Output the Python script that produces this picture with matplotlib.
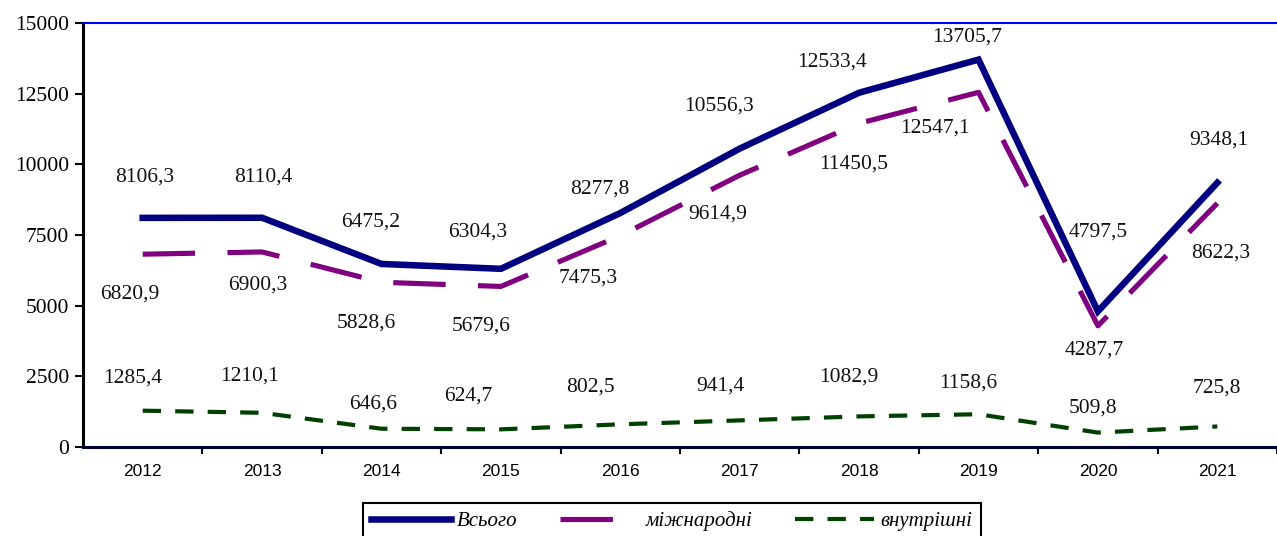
import matplotlib
matplotlib.use("Agg")
import matplotlib.pyplot as plt

years = ["2012", "2013", "2014", "2015", "2016", "2017", "2018", "2019", "2020", "2021"]
total = [8106.3, 8110.4, 6475.2, 6304.3, 8277.8, 10556.3, 12533.4, 13705.7, 4797.5, 9348.1]
international = [6820.9, 6900.3, 5828.6, 5679.6, 7475.3, 9614.9, 11450.5, 12547.1, 4287.7, 8622.3]
domestic = [1285.4, 1210.1, 646.6, 624.7, 802.5, 941.4, 1082.9, 1158.6, 509.8, 725.8]
series_names = ["Всього", "міжнародні", "внутрішні"]
y_ticks = [0, 2500, 5000, 7500, 10000, 12500, 15000]

# label offsets in pixels (dx, dy), placed by hand to match the picture
total_offsets = [(2, 41), (1, 41), (-11, 42), (-23, 37), (-20, 24),
                 (-21, 43), (-27, 31), (-11, 23), (0, 79), (2, 43)]
intl_offsets = [(-13, -40), (-4, -33), (-15, -41), (-20, -40), (-32, -42),
                (-22, -39), (-5, -41), (-44, -36), (-4, -24), (3, -50)]
dom_offsets = [(-10, 33), (-12, 37), (-8, 25), (-33, 33), (-30, 37),
               (-19, 34), (-10, 39), (-10, 31), (-5, 25), (0, 38)]


def fmt(v):
    return ("%.1f" % v).replace(".", ",")


fig = plt.figure(figsize=(12.77, 5.36), dpi=100)
ax = fig.add_axes([83 / 1277, 89 / 536, 1194 / 1277, 424 / 536])

x = list(range(len(years)))

line_total, = ax.plot(x, total, color="#000080", lw=4.7, label=series_names[0],
                      solid_joinstyle="miter")
line_intl, = ax.plot(x, international, color="#800080", lw=3.7, label=series_names[1],
                     dashes=(10.2, 6.3))
line_dom, = ax.plot(x, domestic, color="#004000", lw=3.0, label=series_names[2],
                    dashes=(4.4, 3.4))

serif = "Liberation Serif"
for values, offsets in [(total, total_offsets), (international, intl_offsets),
                        (domestic, dom_offsets)]:
    for i, v in enumerate(values):
        ax.annotate(fmt(v), (i, v), xytext=offsets[i], textcoords="offset pixels",
                    ha="center", va="center", fontsize=15.5, family=serif,
                    color="#111111")

ax.set_xlim(-0.5, -0.5 + 1194 / 120.6)
ax.set_ylim(0, 15000)

ax.set_yticks(y_ticks)
ax.set_yticklabels([str(t) for t in y_ticks], fontsize=15.5, family=serif)
ax.tick_params(axis="y", direction="out", length=6, width=1.5, pad=4)

ax.set_xticks(x)
ax.set_xticklabels(years, fontsize=12.5, family="Liberation Sans")
ax.set_xticks([i + 0.5 for i in x], minor=True)
ax.tick_params(axis="x", which="major", length=0, pad=12)
ax.tick_params(axis="x", which="minor", direction="out", length=5, width=1.5)

ax.spines["right"].set_visible(False)
ax.spines["top"].set_color("#0000ff")
ax.spines["top"].set_linewidth(1.5)
ax.spines["left"].set_color("black")
ax.spines["left"].set_linewidth(2.2)
ax.spines["bottom"].set_color("#000033")
ax.spines["bottom"].set_linewidth(2.2)

leg = fig.legend(handles=[line_total, line_intl, line_dom], loc="upper left",
                 bbox_to_anchor=(363 / 1277, 1 - 503 / 536), ncol=3,
                 prop={"family": serif, "style": "italic", "size": 15},
                 handlelength=3.8, columnspacing=2.05, handletextpad=0.3,
                 borderpad=0.4, borderaxespad=0, fancybox=False, framealpha=1)
leg.get_frame().set_edgecolor("black")
leg.get_frame().set_linewidth(1.5)

fig.savefig("out.png", dpi=100)
